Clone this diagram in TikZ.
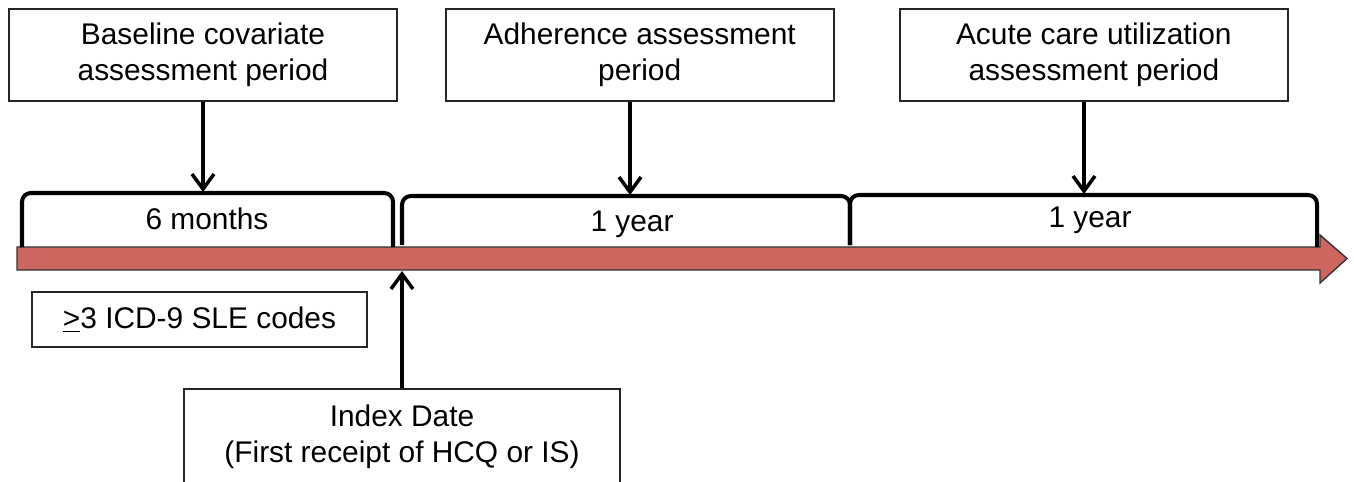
\documentclass[tikz,border=0pt]{standalone}
\usepackage{fontspec}
\setmainfont{Liberation Sans}
\usetikzlibrary{positioning,arrows.meta}
\definecolor{barred}{RGB}{205,102,94}

\begin{document}
\begin{tikzpicture}[x=0.02cm, y=-0.02cm,
    font=\fontsize{17}{20.5}\selectfont,
    box/.style = {draw=black!85, line width=1pt, align=center,
                  minimum width=7.76cm, minimum height=1.84cm, inner sep=0pt},
    brkt/.style = {line width=2.3pt, rounded corners=5pt},
    arr/.style = {line width=2pt, -{Straight Barb[length=3mm,width=4.4mm,line width=2pt]}}]
  \useasboundingbox (0,0) rectangle (1354,481);

  % period boxes
  \node[box] (base) at (203,55) {Baseline covariate\\assessment period};
  \node[box, right=0.94cm of base] (adh) {Adherence assessment\\period};
  \node[box, right=1.29cm of adh] (acute) {Acute care utilization\\assessment period};

  % time line
  \draw[fill=barred, draw=black!80, line width=0.8pt]
    (17,247) -- (1320,247) -- (1320,235) -- (1347,258.5) -- (1320,283)
    -- (1320,270) -- (17,270) -- cycle;

  % brackets
  \draw[brkt] (22,247) -- (22,193) -- (393,193) -- (393,247);
  \draw[brkt] (402,245) -- (402,196) -- (850,196) -- (850,245);
  \draw[brkt] (850,245) -- (850,195) -- (1317,195) -- (1317,247);
  \coordinate (t1) at (203,192);
  \coordinate (t2) at (630,195);
  \coordinate (t3) at (1084,194);
  \coordinate (idx) at (402,271);

  \node (m6) at (207,219) {6 months};
  \node (y1) at (632,224) {1 year};
  \node (y2) at (1090,220) {1 year};

  % criteria and index date
  \node[box, minimum width=6.7cm, minimum height=1.1cm] (sle) at (199.5,319.5)
    {\underline{>}3 ICD-9 SLE codes};
  \node[box, minimum width=8.72cm, minimum height=1.92cm, anchor=north] (index) at (402,388)
    {Index Date\\(First receipt of HCQ or IS)};

  \draw[arr] (base.south -| t1) -- (t1);
  \draw[arr] (adh.south -| t2) -- (t2);
  \draw[arr] (acute.south -| t3) -- (t3);
  \draw[arr] (index.north) -- (idx);
\end{tikzpicture}
\end{document}
